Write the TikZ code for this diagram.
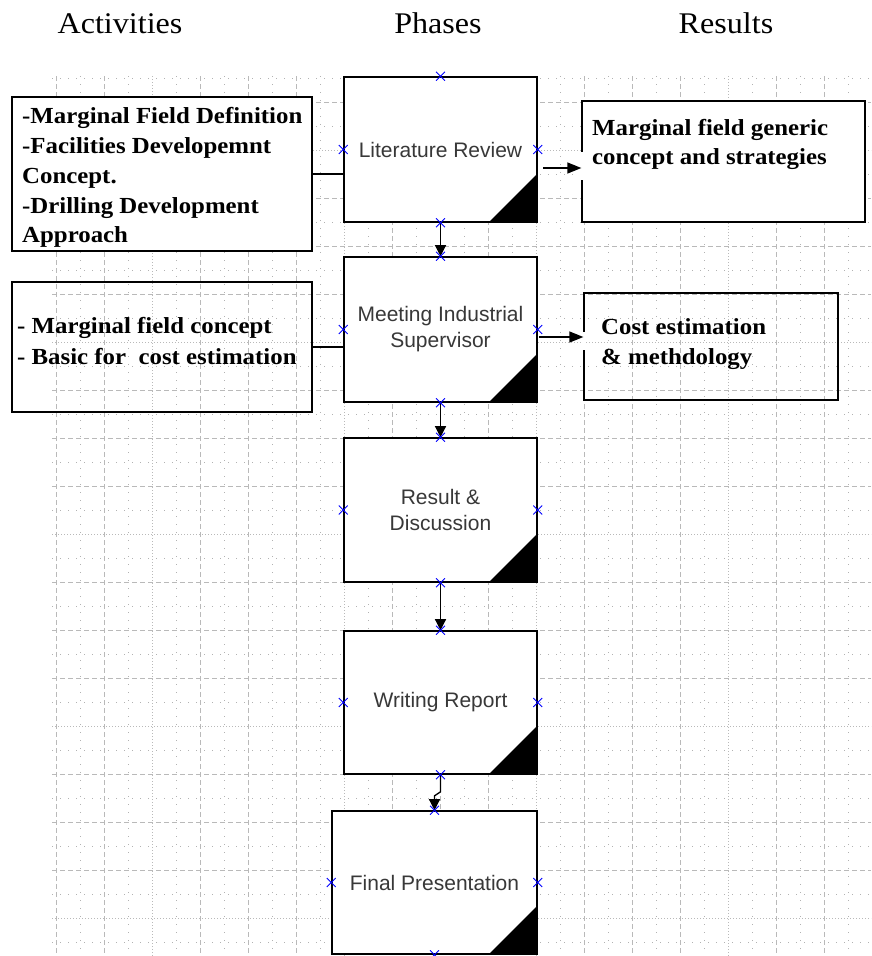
\documentclass[tikz,border=0pt]{standalone}
\usepackage{fontspec}
\setmainfont{Liberation Serif}
\newfontfamily\hdrfont[FakeStretch=1.07]{Liberation Serif}
\newfontfamily\boxfont[FakeStretch=1.08]{Liberation Serif}
\newfontfamily\phfont{Liberation Sans}
\usetikzlibrary{arrows.meta,shapes.misc,calc}
\begin{document}
\begin{tikzpicture}[x=1pt,y=-1pt,
  gridmajor/.style={draw=gray!55, line width=0.9pt, dash pattern=on 5pt off 3pt},
  gridruler/.style={draw=gray!55, line width=0.9pt, dash pattern=on 1pt off 2pt},
  gridminor/.style={draw=gray!60, line width=0.9pt, dash pattern=on 1pt off 7pt},
  phase/.style={draw, line width=1.6pt, fill=white, minimum width=193pt,
    minimum height=145pt, inner sep=0pt, align=center,
    font=\phfont\fontsize{21}{26}\selectfont, text=black!78,
    path picture={\fill[black] ([xshift=-48pt]path picture bounding box.south east)
      -- (path picture bounding box.south east)
      -- ([yshift=48pt]path picture bounding box.south east) -- cycle;}},
  sidebox/.style={draw, line width=1.3pt, inner sep=0pt},
  boxtxt/.style={font=\boxfont\bfseries\fontsize{23}{30}\selectfont, anchor=base west, inner sep=0pt},
  hdr/.style={font=\hdrfont\fontsize{30}{30}\selectfont, anchor=base, inner sep=0pt},
  xmark/.style={cross out, draw=blue, line width=0.9pt, minimum size=8pt, inner sep=0pt},
  conn/.style={line width=1.3pt},
  arr/.style={line width=1.3pt, -{Triangle[length=11pt,width=11pt]}},
  harr/.style={line width=1.3pt, -{Triangle[length=14pt,width=11pt]}}
]
\useasboundingbox (0,0) rectangle (871,956);
\fill[white] (0,0) rectangle (871,956);

% background grid
\begin{scope}
\clip (52,76) rectangle (871,956);
\foreach \x in {80,128,...,848} \draw[gridminor] (\x,76) -- (\x,956);
\foreach \y in {78,126,...,942} \draw[gridminor] (52,\y) -- (871,\y);
\foreach \x in {56,104,200,248,296,392,440,488,584,632,680,776,824} \draw[gridmajor] (\x,76) -- (\x,956);
\foreach \y in {102,198,246,294,390,438,486,582,630,678,774,822,870} \draw[gridmajor] (52,\y) -- (871,\y);
\foreach \x in {152,344,536,728} \draw[gridruler] (\x,76) -- (\x,956);
\foreach \y in {150,342,534,726,918} \draw[gridruler] (52,\y) -- (871,\y);
\end{scope}

% headers
\node[hdr] (hact) at (120,33) {Activities};
\node[hdr] (hph) at (438,33) {Phases};
\node[hdr] (hres) at (726,33) {Results};

% side boxes
\node[sidebox, fill=white, minimum width=300pt, minimum height=154pt] (act1) at (162,174) {};
\node[sidebox, minimum width=300pt, minimum height=130pt] (act2) at (162,347) {};
\node[sidebox, fill=white, minimum width=283pt, minimum height=121pt] (res1) at (723.5,161.5) {};
\node[sidebox, minimum width=254pt, minimum height=107pt] (res2) at (711,346.5) {};

% phase boxes
\node[phase] (lit) at (440.5,149.5) {Literature Review};
\node[phase] (mis) at (440.5,329.5) {Meeting Industrial\\Supervisor};
\node[phase, minimum height=144pt] (rd) at (440.5,510) {Result \&\\Discussion};
\node[phase, minimum height=143pt] (wr) at (440.5,702.5) {Writing Report};
\node[phase, minimum width=205pt, minimum height=143pt] (fp) at (434.5,882.5) {Final Presentation};

% connectors
\draw[conn] (act1.east) -- (act1.east -| lit.west);
\draw[conn] (act2.east) -- (act2.east -| mis.west);
\coordinate (a1s) at (543,168);
\coordinate (a1e) at (a1s -| res1.west);
\coordinate (a2s) at (539,337);
\coordinate (a2e) at (a2s -| res2.west);
\fill[white] ($(a1e)+(-2,-16)$) rectangle ($(a1e)+(2,12)$);
\fill[white] ($(a2e)+(-2,-5)$) rectangle ($(a2e)+(2,13)$);
\draw[harr] (a1s) -- (a1e);
\draw[harr] (a2s) -- (a2e);
\draw[arr] (lit.south) -- (mis.north);
\draw[arr] (mis.south) -- (rd.north);
\draw[arr] (rd.south) -- (wr.north);
\draw[arr] (wr.south) -- ++(0,17) -- ++(-6,4) -- (fp.north);

% connection marks
\foreach \b in {lit,mis,rd,wr,fp}
  \foreach \a in {north,south,east,west}
    \node[xmark] (\b-\a-x) at (\b.\a) {};

% side box texts
\node[boxtxt] (act1a) at (22,123) {-Marginal Field Definition};
\node[boxtxt] (act1b) at (22,153) {-Facilities Developemnt};
\node[boxtxt] (act1c) at (22,183) {Concept.};
\node[boxtxt] (act1d) at (22,213) {-Drilling Development};
\node[boxtxt] (act1e) at (22,242) {Approach};
\node[boxtxt] (act2a) at (17,333) {- Marginal field concept};
\node[boxtxt] (act2b) at (17,364) {- Basic for~~cost estimation};
\node[boxtxt] (res1a) at (592,135) {Marginal field generic};
\node[boxtxt] (res1b) at (592,164) {concept and strategies};
\node[boxtxt] (res2a) at (601,334) {Cost estimation};
\node[boxtxt] (res2b) at (601,364) {\& methdology};
\end{tikzpicture}
\end{document}
